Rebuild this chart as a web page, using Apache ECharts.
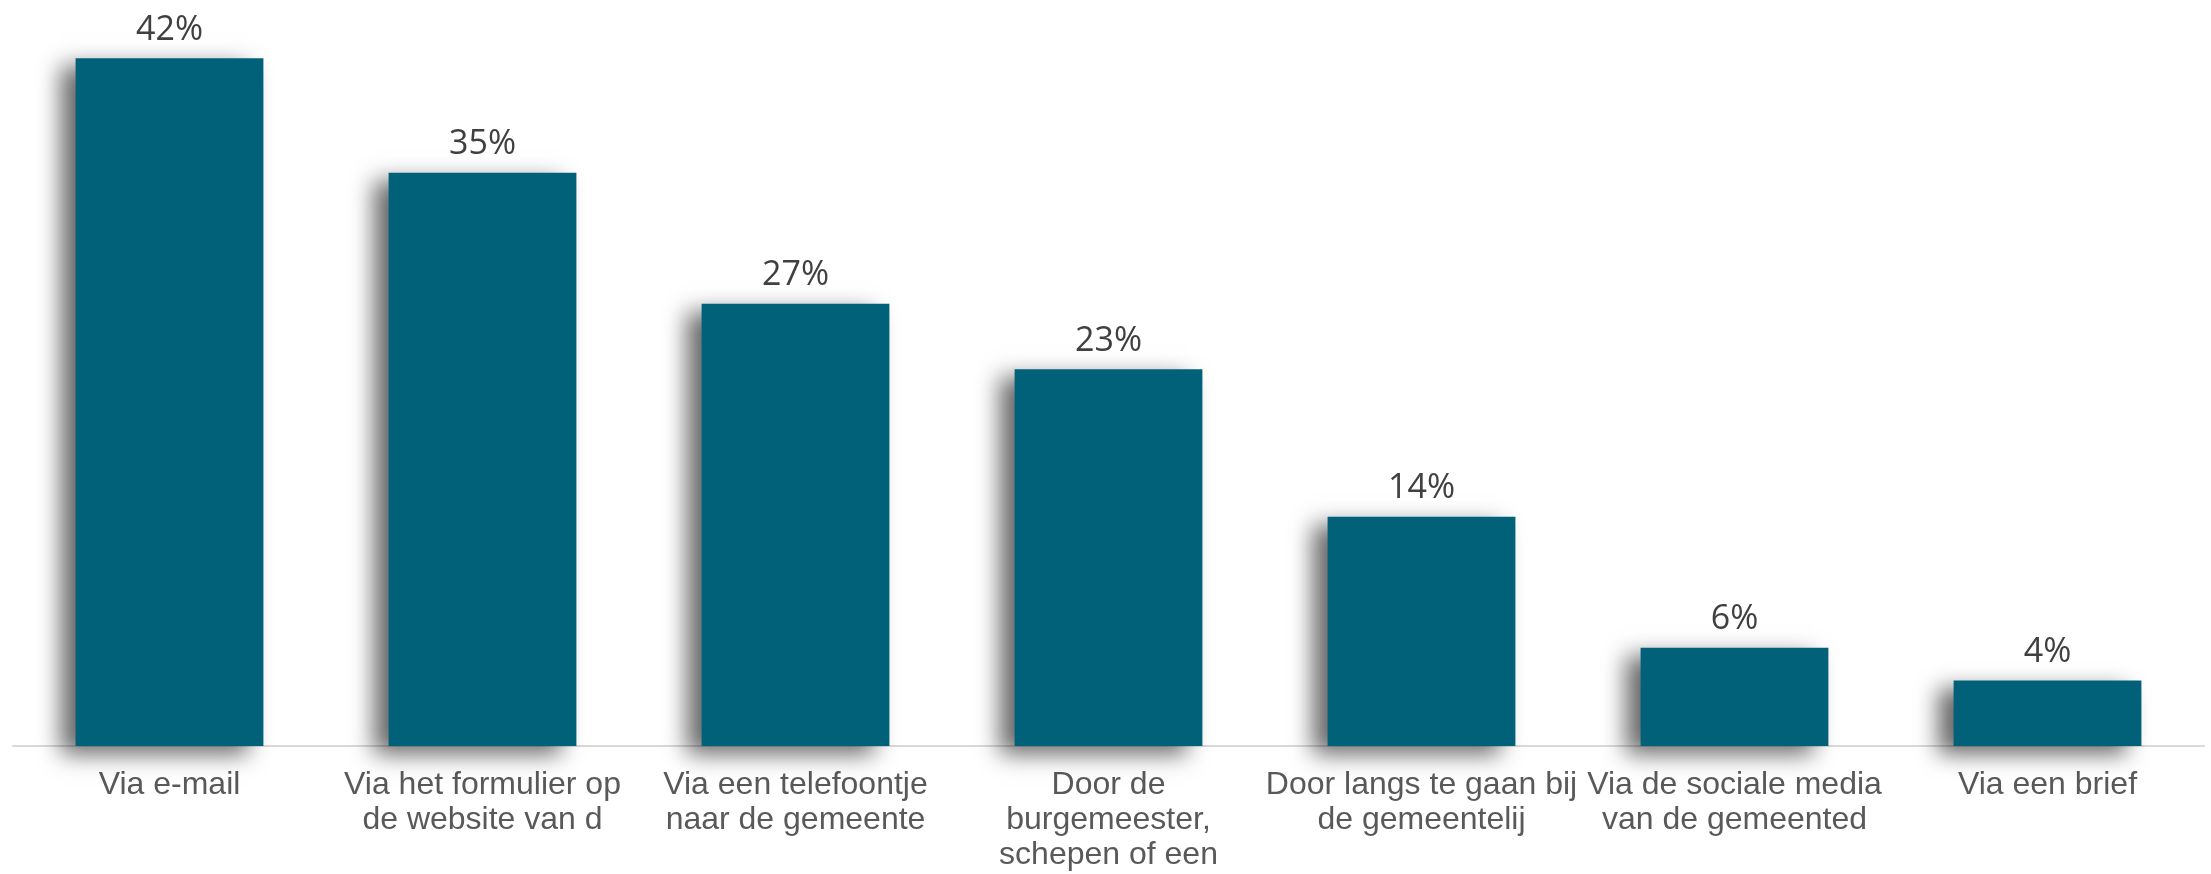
<!DOCTYPE html>
<html>
<head>
<meta charset="utf-8">
<script src="https://cdn.jsdelivr.net/npm/echarts@6/dist/echarts.min.js"></script>
<style>
  html, body { margin: 0; padding: 0; background: #ffffff; }
  #chart { width: 2211px; height: 874px; }
</style>
</head>
<body>
<div id="chart"></div>
<script>
// Contact channels (wrapped as they appear under the axis)
const categories = [
  'Via e-mail',
  'Via het formulier op\nde website van d',
  'Via een telefoontje\nnaar de gemeente',
  'Door de\nburgemeester,\nschepen of een',
  'Door langs te gaan bij\nde gemeentelij',
  'Via de sociale media\nvan de gemeented',
  'Via een brief'
];
// Share of respondents, in percent
const values = [42, 35, 27, 23, 14, 6, 4];

const chart = echarts.init(document.getElementById('chart'), null, { renderer: 'canvas' });

chart.setOption({
  animation: false,
  backgroundColor: '#ffffff',
  grid: { left: 13, right: 7, top: 9, bottom: 128, containLabel: false },
  xAxis: {
    type: 'category',
    data: categories,
    axisLine: { show: true, lineStyle: { color: '#d9d9d9', width: 2 } },
    axisTick: { show: false },
    axisLabel: {
      interval: 0,
      margin: 22,
      color: '#595959',
      fontFamily: '"Liberation Sans", Arial, sans-serif',
      fontSize: 32,
      lineHeight: 35
    }
  },
  yAxis: {
    type: 'value',
    min: 0,
    max: 45,
    show: false,
    splitLine: { show: false }
  },
  series: [{
    type: 'bar',
    data: values,
    barCategoryGap: '40%',
    itemStyle: {
      color: '#006179',
      shadowColor: 'rgba(0,0,0,0.6)',
      shadowBlur: 22,
      shadowOffsetX: -15,
      shadowOffsetY: 8
    },
    label: {
      show: true,
      position: 'top',
      distance: 11,
      formatter: '{c}%',
      color: '#404040',
      fontFamily: '"Open Sans", "Noto Sans", sans-serif',
      fontSize: 34
    }
  }]
});
</script>
</body>
</html>
